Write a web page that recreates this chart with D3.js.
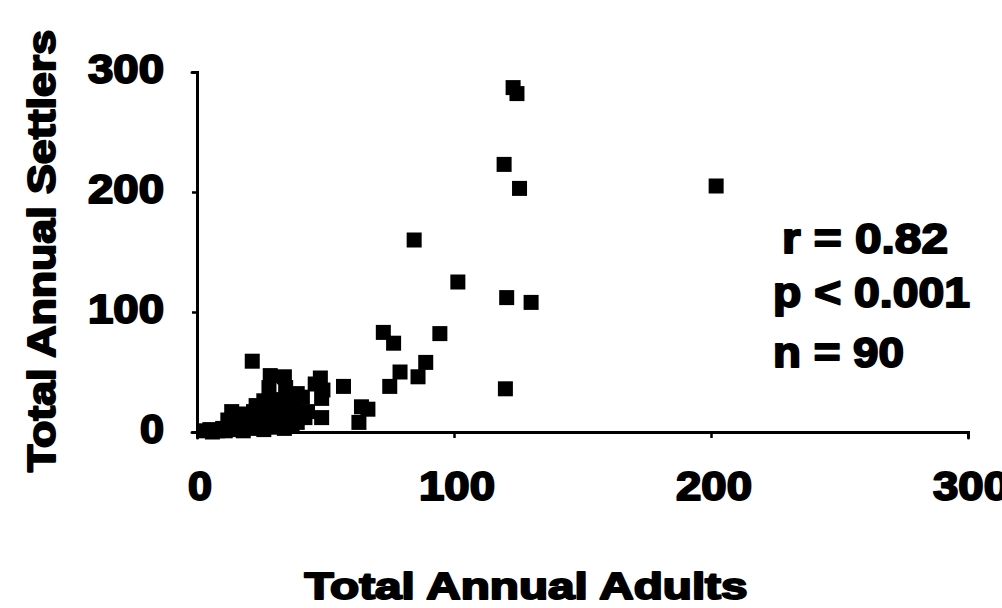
<!DOCTYPE html>
<html>
<head>
<meta charset="utf-8">
<script src="https://cdn.jsdelivr.net/npm/d3@7"></script>
<style>
  html, body { margin: 0; padding: 0; background: #fff; }
  svg { display: block; }
  text { font-family: "Liberation Sans", Arial, Helvetica, sans-serif; font-weight: 700; fill: #000; }
</style>
</head>
<body>
<svg id="chart" width="1002" height="608"></svg>
<script>
// Total annual adults (x) vs total annual settlers (y), one entry per sample
const adults = [
  123, 124.5, 119.5, 125.5, 202, 84.5, 101.5, 120.5, 130, 72.5,
  76.5, 94.5, 89, 79, 86, 75, 120, 57, 21.5, 64,
  66.5, 63, 48.5, 48, 46, 48.5, 49, 28.5, 34, 28,
  34.5, 39, 23, 13.5, 41,
  3, 5, 6, 8, 10, 11, 13, 14, 15, 16,
  17, 18, 19, 20, 21, 22, 23, 24, 25, 26,
  27, 28, 29, 30, 31, 32, 33, 34, 35, 36,
  37, 38, 39, 40, 12, 18, 24, 30, 16, 26,
  33, 36, 20, 28, 38, 22, 14, 31, 42, 43
];
const settlers = [
  287, 282, 223, 203, 205, 160, 125, 112, 108, 83,
  74, 82, 58, 50, 46, 38, 36, 38, 59, 21,
  19, 8, 12, 45, 40, 28, 35, 47, 46, 37,
  37, 32, 22, 17, 29,
  1, 2, 0, 1, 3, 1, 5, 2, 8, 4,
  10, 1, 6, 12, 3, 8, 15, 5, 10, 2,
  18, 7, 13, 4, 20, 9, 15, 3, 11, 24,
  6, 16, 8, 13, 10, 15, 20, 25, 13, 26,
  27, 30, 5, 22, 20, 17, 12, 15, 12, 17
];
const xTicks = [0, 100, 200, 300];
const yTicks = [0, 100, 200, 300];
const xTitle = "Total Annual Adults";
const yTitle = "Total Annual Settlers";
const statLines = ["r = 0.82", "p < 0.001", "n = 90"];

const svg = d3.select("#chart");

const x = d3.scaleLinear().domain([0, 300]).range([197, 968]);
const y = d3.scaleLinear().domain([0, 300]).range([432, 72]);

// axes
const xAxis = d3.axisBottom(x).tickValues(xTicks).tickSize(6).tickSizeOuter(6).tickFormat(() => "");
const yAxis = d3.axisLeft(y).tickValues(yTicks).tickSize(5).tickSizeOuter(5).tickFormat(() => "");

const gx = svg.append("g").attr("transform", `translate(0,${y(0)})`).call(xAxis);
const gy = svg.append("g").attr("transform", `translate(${x(0)},0)`).call(yAxis);
[gx, gy].forEach(g => {
  g.select(".domain").attr("stroke", "#000").attr("stroke-width", 3).attr("stroke-linecap", "round");
  g.selectAll(".tick line").attr("stroke", "#000").attr("stroke-width", 2.5);
});

// heavy text helper
function bold(sel, size, len) {
  sel.style("font-size", size + "px")
     .attr("stroke", "#000").attr("stroke-width", 2).attr("stroke-linejoin", "round")
     .attr("textLength", len).attr("lengthAdjust", "spacingAndGlyphs");
}

// tick labels
svg.append("g").selectAll("text").data(xTicks).join("text")
  .attr("x", d => x(d) + 3).attr("y", 500)
  .attr("text-anchor", "middle")
  .text(d => d)
  .call(s => s.each(function(d) { bold(d3.select(this), 40, String(d).length * 26 - 2); }));

svg.append("g").selectAll("text").data(yTicks).join("text")
  .attr("x", 164).attr("y", d => y(d) + 11)
  .attr("text-anchor", "end")
  .text(d => d)
  .call(s => s.each(function(d) { bold(d3.select(this), 40, String(d).length * 26 - 2); }));

// axis titles
svg.append("text")
  .attr("x", 526).attr("y", 599)
  .attr("text-anchor", "middle")
  .text(xTitle)
  .call(s => bold(s, 37, 443));

svg.append("text")
  .attr("transform", "translate(55,251) rotate(-90)")
  .attr("text-anchor", "middle")
  .text(yTitle)
  .call(s => bold(s, 39, 442));

// statistics block
const statX = [782, 773, 773];
const statY = [253, 307, 367];
const statW = [166, 197, 131];
svg.append("g").selectAll("text").data(statLines).join("text")
  .attr("x", (d, i) => statX[i]).attr("y", (d, i) => statY[i])
  .text(d => d)
  .call(s => s.each(function(d, i) { bold(d3.select(this), 42, statW[i]); }));

// points
const pts = adults.map((a, i) => ({ a, s: settlers[i] }));
const size = 15;
svg.append("g").selectAll("rect").data(pts).join("rect")
  .attr("x", d => x(d.a) - size / 2)
  .attr("y", d => y(d.s) - size / 2)
  .attr("width", size).attr("height", size)
  .attr("fill", "#000");
</script>
</body>
</html>
